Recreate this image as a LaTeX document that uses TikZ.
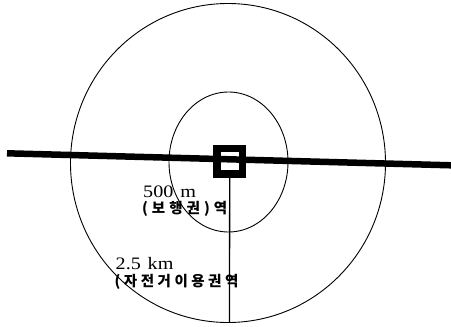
\documentclass[tikz,border=0pt]{standalone}
\usepackage{fontspec}
\setmainfont{Liberation Serif}
\newfontfamily\kr{Noto Sans CJK KR}
\newcommand{\ka}{\kern4pt}
\newcommand{\kb}{\kern3.5pt}
\begin{document}
\begin{tikzpicture}[x=1pt,y=-1pt,
  ring/.style={draw=black,line width=0.9pt},
  road/.style={draw=black,line width=6.5pt},
  stationbox/.style={draw=black,line width=7.5pt,minimum size=25.3pt,inner sep=0pt,outer sep=0pt},
  axisline/.style={draw=black,line width=1.3pt},
  numlabel/.style={anchor=base west,inner sep=0pt,font=\fontsize{17.5}{20}\selectfont},
  krlabel/.style={anchor=base west,inner sep=0pt,font=\kr\bfseries\fontsize{14.5}{17}\selectfont}]
\useasboundingbox (0,0) rectangle (451,327);
\fill[white] (0,0) rectangle (451,327);
% rings
\draw[ring] (228,163) ellipse [x radius=157.5, y radius=159.5];
\draw[ring] (228.5,162) ellipse [x radius=59.5, y radius=70];
% road
\coordinate (L) at (7,153.3);
\coordinate (R) at (451,165.3);
\draw[road] (L) -- (R);
% station
\node[stationbox] (sq) at (229.7,161.3) {};
\coordinate (B) at (229.5,322);
\draw[axisline] (sq.south) -- (B);
% labels
\node[numlabel] (t1) at (143,197.5) {\scalebox{1.15}[1]{500\hspace{6pt}m}};
\node[krlabel] (t2) at (142,213.5) {(\ka 보\ka 행\ka 권\ka )\ka 역};
\node[numlabel] (t3) at (115.5,269.5) {\scalebox{1.15}[1]{2.5\hspace{6pt}km}};
\node[krlabel] (t4) at (114.5,286) {(\kb 자\kb 전\kb 거\kb 이\kb 용\kb 권\kb 역};
\end{tikzpicture}
\end{document}
